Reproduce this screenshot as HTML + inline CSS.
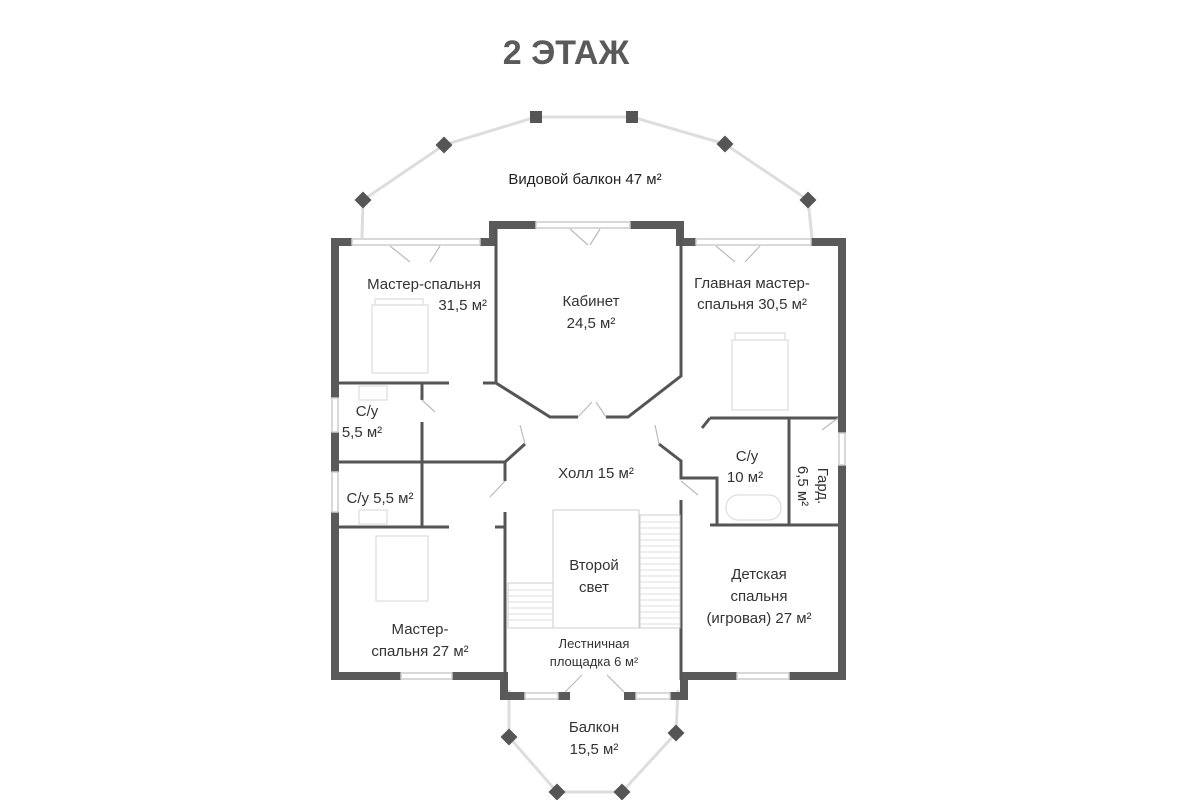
<!DOCTYPE html>
<html><head><meta charset="utf-8"><style>
body{margin:0;background:#fff;width:1200px;height:800px;overflow:hidden}
svg{display:block}
text{font-family:"Liberation Sans","DejaVu Sans",sans-serif;fill:#333;font-size:15px}
</style></head><body>
<svg width="1200" height="800" viewBox="0 0 1200 800">
<text x="566" y="64" text-anchor="middle" style="font-size:34px;font-weight:bold;fill:#5a5a5a">2 ЭТАЖ</text>
<g stroke="#ddd" stroke-width="3" fill="none">
<polyline points="362,238 363,200 444,145 536,117 632,117 725,144 808,200 812,238"/>
<polyline points="509,690 509,737 557,792 622,792 676,733 678,690"/>
</g>
<g fill="#555">
<rect x="357" y="194" width="12" height="12" transform="rotate(45 363 200)"/>
<rect x="438" y="139" width="12" height="12" transform="rotate(45 444 145)"/>
<rect x="530" y="111" width="12" height="12"/>
<rect x="626" y="111" width="12" height="12"/>
<rect x="719" y="138" width="12" height="12" transform="rotate(45 725 144)"/>
<rect x="802" y="194" width="12" height="12" transform="rotate(45 808 200)"/>
<rect x="503" y="731" width="12" height="12" transform="rotate(45 509 737)"/>
<rect x="551" y="786" width="12" height="12" transform="rotate(45 557 792)"/>
<rect x="616" y="786" width="12" height="12" transform="rotate(45 622 792)"/>
<rect x="670" y="727" width="12" height="12" transform="rotate(45 676 733)"/>
</g>
<g fill="#5a5a5a">
<rect x="331" y="238" width="21" height="8"/>
<rect x="331" y="238" width="8" height="160"/>
<rect x="331" y="432" width="8" height="40"/>
<rect x="331" y="512" width="8" height="168"/>
<rect x="331" y="672" width="70" height="8"/>
<rect x="452" y="672" width="56" height="8"/>
<rect x="500" y="672" width="8" height="28"/>
<rect x="500" y="692" width="25" height="8"/>
<rect x="558" y="692" width="12" height="8"/>
<rect x="624" y="692" width="12" height="8"/>
<rect x="670" y="692" width="18" height="8"/>
<rect x="680" y="672" width="8" height="28"/>
<rect x="680" y="672" width="57" height="8"/>
<rect x="789" y="672" width="56" height="8"/>
<rect x="838" y="238" width="8" height="195"/>
<rect x="838" y="465" width="8" height="215"/>
<rect x="811" y="238" width="34" height="8"/>
<rect x="480" y="238" width="16" height="8"/>
<rect x="489" y="221" width="8" height="25"/>
<rect x="489" y="221" width="47" height="8"/>
<rect x="630" y="221" width="52" height="8"/>
<rect x="676" y="221" width="8" height="25"/>
<rect x="676" y="238" width="20" height="8"/>
</g>
<g stroke="#ccc" stroke-width="1.5" fill="none">
<rect x="352" y="239" width="128" height="6"/>
<rect x="536" y="222" width="94" height="6"/>
<rect x="696" y="239" width="115" height="6"/>
<rect x="401" y="673" width="51" height="6"/>
<rect x="737" y="673" width="52" height="6"/>
<rect x="525" y="693" width="33" height="6"/>
<rect x="636" y="693" width="34" height="6"/>
<rect x="332" y="398" width="6" height="34"/>
<rect x="332" y="472" width="6" height="40"/>
<rect x="839" y="433" width="6" height="32"/>
</g>
<g stroke="#555" stroke-width="3" fill="none">
<polyline points="496,229 496,383 550,417 578,417"/>
<polyline points="606,417 628,417 681,376 681,229"/>
<line x1="339" y1="383" x2="449" y2="383"/>
<line x1="483" y1="383" x2="496" y2="383"/>
<line x1="422" y1="383" x2="422" y2="400"/>
<line x1="422" y1="422" x2="422" y2="527"/>
<polyline points="339,462 505,462 505,481"/>
<line x1="505" y1="462" x2="525" y2="444"/>
<line x1="339" y1="527" x2="449" y2="527"/>
<line x1="495" y1="527" x2="505" y2="527"/>
<line x1="505" y1="512" x2="505" y2="680"/>
<polyline points="659,444 681,461 681,478 717,478 717,525"/>
<line x1="681" y1="500" x2="681" y2="680"/>
<line x1="710" y1="418" x2="777" y2="418"/>
<line x1="777" y1="418" x2="838" y2="418"/>
<line x1="789" y1="418" x2="789" y2="525"/>
<line x1="710" y1="525" x2="838" y2="525"/>
<line x1="710" y1="418" x2="702" y2="428"/>
</g>
<g stroke="#bbb" stroke-width="1.2" fill="none">
<path d="M390,246 L410,262 M440,246 L430,262"/>
<path d="M570,229 L588,245 M600,229 L590,245"/>
<path d="M716,246 L735,262 M760,246 L745,262"/>
<path d="M578,417 L592,402 M606,417 L596,402"/>
<path d="M422,400 L435,412"/>
<path d="M525,444 L520,425 M505,481 L490,497 M659,444 L655,425 M681,481 L698,495"/>
<path d="M565,692 L582,675 M624,692 L607,675"/>
<path d="M838,418 L822,430"/>
</g>
<g stroke="#ccc" stroke-width="1" fill="none">
<rect x="553" y="510" width="86" height="118"/>
<rect x="640" y="515" width="40" height="113"/>
<rect x="508" y="583" width="45" height="45"/>
</g>
<g stroke="#ddd" stroke-width="1">
<path d="M640,522H680M640,528H680M640,534H680M640,540H680M640,546H680M640,552H680M640,558H680M640,564H680M640,570H680M640,576H680M640,582H680M640,588H680M640,594H680M640,600H680M640,606H680M640,612H680M640,618H680M640,624H680"/>
<path d="M508,590H553M508,596H553M508,602H553M508,608H553M508,614H553M508,620H553"/>
</g>
<g stroke="#ddd" stroke-width="1.2" fill="none">
<rect x="372" y="305" width="56" height="68"/>
<rect x="375" y="299" width="48" height="6"/>
<rect x="732" y="340" width="56" height="70"/>
<rect x="735" y="333" width="50" height="7"/>
<rect x="376" y="536" width="52" height="65"/>
<rect x="359" y="386" width="28" height="14"/>
<rect x="359" y="510" width="28" height="14"/>
<rect x="726" y="495" width="55" height="25" rx="12"/>
</g>
<text x="585" y="184" text-anchor="middle" style="font-size:15px;fill:#222">Видовой балкон 47 м²</text>
<text x="424" y="289" text-anchor="middle">Мастер-спальня</text>
<text x="487" y="310" text-anchor="end">31,5 м²</text>
<text x="591" y="306" text-anchor="middle">Кабинет</text>
<text x="591" y="328" text-anchor="middle">24,5 м²</text>
<text x="752" y="288" text-anchor="middle">Главная мастер-</text>
<text x="752" y="309" text-anchor="middle">спальня 30,5 м²</text>
<text x="367" y="416" text-anchor="middle">С/у</text>
<text x="362" y="437" text-anchor="middle">5,5 м²</text>
<text x="380" y="503" text-anchor="middle">С/у 5,5 м²</text>
<text x="596" y="478" text-anchor="middle">Холл 15 м²</text>
<text x="747" y="461" text-anchor="middle">С/у</text>
<text x="745" y="482" text-anchor="middle">10 м²</text>
<text transform="translate(818,486) rotate(90)" text-anchor="middle">Гард.</text>
<text transform="translate(798,486) rotate(90)" text-anchor="middle">6,5 м²</text>
<text x="594" y="570" text-anchor="middle">Второй</text>
<text x="594" y="592" text-anchor="middle">свет</text>
<text x="759" y="579" text-anchor="middle">Детская</text>
<text x="759" y="601" text-anchor="middle">спальня</text>
<text x="759" y="623" text-anchor="middle">(игровая) 27 м²</text>
<text x="420" y="634" text-anchor="middle">Мастер-</text>
<text x="420" y="656" text-anchor="middle">спальня 27 м²</text>
<text x="594" y="648" text-anchor="middle" style="font-size:13px">Лестничная</text>
<text x="594" y="666" text-anchor="middle" style="font-size:13px">площадка 6 м²</text>
<text x="594" y="732" text-anchor="middle">Балкон</text>
<text x="594" y="754" text-anchor="middle">15,5 м²</text>
</svg>
</body></html>
